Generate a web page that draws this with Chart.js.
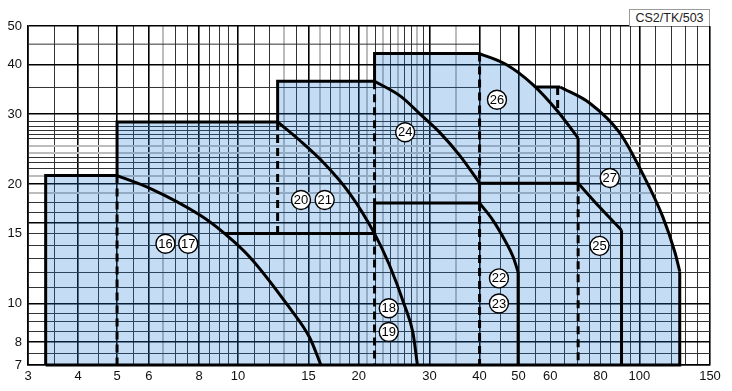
<!DOCTYPE html>
<html><head><meta charset="utf-8">
<script src="https://cdn.jsdelivr.net/npm/chart.js@4.4.1/dist/chart.umd.min.js"></script>
<style>
html,body{margin:0;padding:0;background:#fff;}
#wrap{position:relative;width:732px;height:391px;}
#c{position:absolute;left:0;top:0;}
#code{position:absolute;left:629px;top:9px;width:81px;height:17px;border:1px solid #9a9a9a;border-bottom:none;box-sizing:border-box;font:12.5px 'Liberation Sans',Arial,sans-serif;color:#222;text-align:center;line-height:16px;background:#fff;}
</style></head>
<body><div id="wrap"><canvas id="c" width="732" height="391"></canvas><div id="code">CS2/TK/503</div></div>
<script>
// ---- axis ticks / grid ----
const xGridValues = [3,3.5,4,4.5,5,5.5,6,6.5,7,7.5,8,8.5,9,9.5,10,11,12,13,14,15,16,17,18,19,20,21,22,23,24,25,26,27,28,29,30,35,40,45,50,55,60,65,70,75,80,85,90,95,100,110,120,130,140,150];
const xGridBold = [3,4,5,6,8,10,15,20,30,40,50,100,150];
const xGridGray = [6.5,13,16,18,21,23,25,28,35];
const xLabelValues = [3,4,5,6,8,10,15,20,30,40,50,60,80,100,150];
const yGridValues = [7,7.5,8,8.5,9,9.45,10,11,12,13,14,15,16,17,18,19,20,21,21.9,22.6,23.3,24,25,26,26.6,27.2,27.9,28.7,30,40,50];
const yGridBold = [7,8,10,16,20,30,40,50];
const yGridGray = [19,21,24,25];
const yLabelValues = [7,8,10,15,20,30,40,50];
// horizontal grid lines that only run across the left part of the sheet
const yPartialGrid = [35,45];
const partialGridQ = [3,40];

// ---- outlines (Q = x, H = y) ----
const stepQ = [3.32,3.32,5,5,12.56,12.56,21.9,21.9,40];
const stepH = [7,21,21,28.65,28.65,36.3,36.3,42.6,42.6];
const curveA_Q = [5,6.04,8.04,9.27,10.7,13.4,15.1,16.1];
const curveA_H = [21,19.5,16.7,15,13.1,9.8,8.2,7];
const curveB_Q = [12.56,14.29,16.44,18.96,21.9,23.85,26.0,27.3,28.0];
const curveB_H = [28.65,25.7,22.5,18.98,15,12.5,9.9,8.43,7];
const curveC_Q = [21.9,25.5,28.4,31.9,35.8,40];
const curveC_H = [36.3,33.2,30.04,26.9,23.5,20.1];
const curveD_Q = [40,46.6,54.3,62.6,70.4];
const curveD_H = [42.6,40,35.6,30.5,26.1];
const stepD_Q = [70.4,70.4];
const stepD_H = [26.1,20.1];
const top27_Q = [55,63.5];
const top27_H = [35.1,35.1];
const curveF_Q = [63.5,75.3,89.4,102.0,114.5,122.8,126.1];
const curveF_H = [35.1,31.95,26.9,21.2,16.5,13.4,12.04];
const stepF_Q = [126.1,126.1,3.32];
const stepF_H = [12.04,7,7];
const shelfQ = [9.27,21.9,21.9,40,40,70.4];
const shelfH = [15,15,17.9,17.9,20.1,20.1];
const curve22_Q = [40,43.2,46.2,48.5,49.9];
const curve22_H = [17.9,16.2,14.45,13.1,12];
const step22_Q = [49.9,49.9];
const step22_H = [12,7];
const curve25_Q = [70.4,79.6,90.3];
const curve25_H = [20.1,17.5,15.3];
const step25_Q = [90.3,90.3];
const step25_H = [15.3,7];

// ---- dashed separators ----
const dashQ = [5,12.56,21.9,21.9,40,40,62.6,70.4];
const dashTop = [21,28.65,36.3,15,42.6,17.9,35.1,20.1];
const dashBottom = [7,15,17.9,7,20.1,7,30.5,7];

// ---- model markers ----
const markerNames = ['16','17','18','19','20','21','22','23','24','25','26','27'];
const markerQ = [6.6,7.52,23.76,23.76,14.36,16.45,44.7,44.7,26.1,79.6,44.2,84.4];
const markerH = [14.14,14.14,9.73,8.48,18.23,18.23,11.57,10.0,27.0,13.97,32.6,20.7];

// ---- helpers ----
const pts = (q,h) => q.map((x,i)=>({x:x,y:h[i]}));
const near = (v,arr) => arr.some(a => Math.abs(a-v) < 1e-6);

const fillPts = [].concat(
  pts(stepQ,stepH),
  pts(curveD_Q,curveD_H).filter(p => p.x > 40 && p.y > 35.1),
  pts(top27_Q,top27_H),
  pts(curveF_Q,curveF_H).slice(1),
  [{x:stepF_Q[1], y:stepF_H[1]}]
);

const solid = (data, curve) => ({
  data, showLine:true, fill:false, borderColor:'#000', borderWidth:3,
  pointRadius:0, pointHoverRadius:0, tension:0,
  cubicInterpolationMode: curve ? 'monotone' : 'default',
  borderJoinStyle:'miter', clip:false, order:2
});
const datasets = [];
datasets.push({
  data: pts(markerQ, markerH),
  showLine:false, pointRadius:9.5, pointHoverRadius:9.5,
  pointBackgroundColor:'#fff', pointBorderColor:'#000', pointBorderWidth:1.4,
  clip:false, order:0
});
[[stepQ,stepH,false],[curveA_Q,curveA_H,true],[curveB_Q,curveB_H,true],[curveC_Q,curveC_H,true],
 [curveD_Q,curveD_H,true],[stepD_Q,stepD_H,false],[top27_Q,top27_H,false],[curveF_Q,curveF_H,true],
 [stepF_Q,stepF_H,false],[shelfQ,shelfH,false],[curve22_Q,curve22_H,true],[step22_Q,step22_H,false],
 [curve25_Q,curve25_H,true],[step25_Q,step25_H,false]].forEach(a=>datasets.push(solid(pts(a[0],a[1]),a[2])));
dashQ.forEach((q,i)=>{
  const d = solid([{x:q,y:dashTop[i]},{x:q,y:dashBottom[i]}],false);
  d.borderDash = [8,5]; d.order = 3;
  datasets.push(d);
});
yPartialGrid.forEach(h=>{
  datasets.push({data: partialGridQ.map(q=>({x:q,y:h})), showLine:true, fill:false,
    borderColor:'#333', borderWidth:1, pointRadius:0, pointHoverRadius:0, order:20});
});
datasets.push({
  data: fillPts, showLine:true, borderWidth:0, pointRadius:0, pointHoverRadius:0,
  tension:0, fill:'start', backgroundColor:'rgba(23,115,215,0.25)', order:10, clip:false
});

const markerText = {
  id:'markerText',
  afterDatasetsDraw(chart){
    const meta = chart.getDatasetMeta(0);
    const ctx = chart.ctx;
    ctx.save();
    ctx.fillStyle = '#000';
    ctx.font = "13px 'Liberation Sans Narrow','Liberation Sans',Arial,sans-serif";
    ctx.textAlign = 'center';
    ctx.textBaseline = 'middle';
    meta.data.forEach((el,i)=>{ ctx.fillText(markerNames[i], el.x, el.y+0.5); });
    ctx.restore();
  }
};

const gridColor = (v, bold, gray) => near(v,bold) ? '#000' : (near(v,gray) ? '#bcbcbc' : '#333');
const gridWidth = (v, bold, gray) => near(v,bold) ? 1.6 : (near(v,gray) ? 2 : 1);
const tickFont = {family:"'Liberation Sans',Arial,sans-serif", size:13};

new Chart(document.getElementById('c'), {
  type:'scatter',
  data:{datasets},
  plugins:[markerText],
  options:{
    responsive:false, animation:false, events:[],
    layout:{padding:{top:26, right:22, left:0, bottom:0}},
    plugins:{legend:{display:false}, tooltip:{enabled:false}},
    scales:{
      x:{
        type:'logarithmic', min:3, max:150,
        afterBuildTicks:s=>{ s.ticks = xGridValues.map(v=>({value:v})); },
        afterFit:s=>{ s.height = 26; },
        ticks:{autoSkip:false, maxRotation:0, minRotation:0, padding:4, color:'#111', font:tickFont,
          callback:(v)=> near(v,xLabelValues) ? String(v) : ''},
        grid:{drawTicks:false, tickLength:0,
          color:c=>gridColor(c.tick.value,xGridBold,xGridGray),
          lineWidth:c=>gridWidth(c.tick.value,xGridBold,xGridGray)},
        border:{display:true, color:'#000', width:1.6}
      },
      y:{
        type:'logarithmic', min:7, max:50,
        afterBuildTicks:s=>{ s.ticks = yGridValues.map(v=>({value:v})); },
        afterFit:s=>{ s.width = 28; },
        ticks:{autoSkip:false, padding:6, color:'#111', font:tickFont,
          callback:(v)=> near(v,yLabelValues) ? String(v) : ''},
        grid:{drawTicks:false, tickLength:0,
          color:c=>gridColor(c.tick.value,yGridBold,yGridGray),
          lineWidth:c=>gridWidth(c.tick.value,yGridBold,yGridGray)},
        border:{display:true, color:'#000', width:1.6}
      }
    }
  }
});
</script>
</body></html>
